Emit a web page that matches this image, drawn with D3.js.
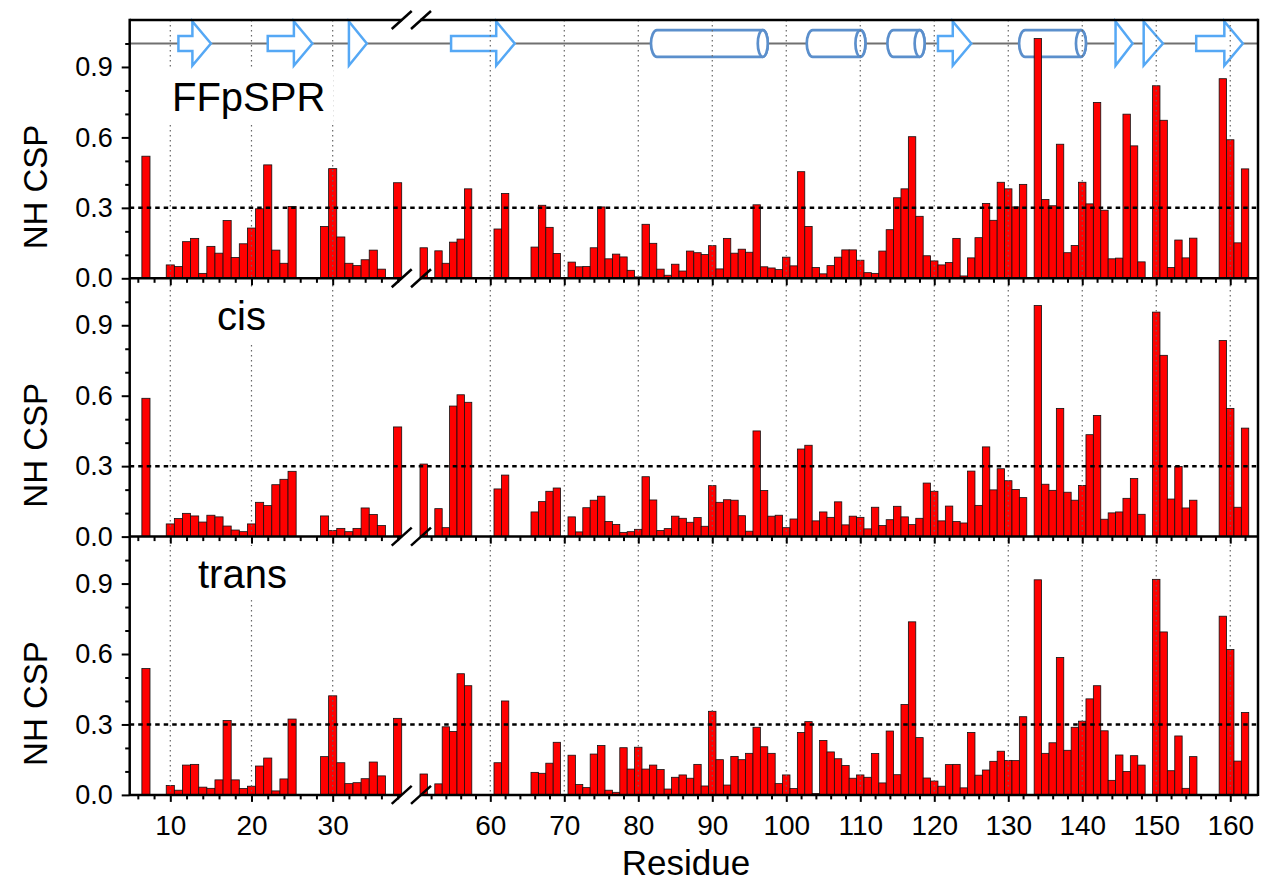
<!DOCTYPE html>
<html><head><meta charset="utf-8">
<script src="https://cdn.jsdelivr.net/npm/d3@7"></script>
<style>body{margin:0;background:#fff} svg{display:block} text{font-family:Arial,"Liberation Sans",sans-serif;fill:#000}</style>
</head><body><svg id="c" width="1265" height="884"></svg>
<script>
// ---------------- data ----------------
const residues = [7,10,11,12,13,14,15,16,17,18,19,20,21,22,23,24,25,29,30,31,32,33,34,35,36,38,
  51,53,54,55,56,57,61,62,66,67,68,69,
  71,72,73,74,75,76,77,78,79,80,81,82,83,84,85,86,87,88,89,90,91,92,93,94,95,96,97,98,99,100,
  101,102,103,104,105,106,107,108,109,110,111,112,113,114,115,116,117,118,119,120,121,122,123,124,125,126,127,128,129,130,131,132,
  134,135,136,137,138,139,140,141,142,143,144,145,146,147,148,150,151,152,153,154,155,159,160,161,162];
const ffpspr = [0.52,0.057,0.05,0.156,0.17,0.021,0.136,0.107,0.246,0.089,0.147,0.214,0.296,0.483,0.12,0.064,0.306,0.221,0.467,0.176,0.064,0.054,0.079,0.12,0.039,0.407,
  0.13,0.117,0.064,0.154,0.167,0.381,0.21,0.361,0.133,0.311,0.217,0.106,
  0.069,0.049,0.05,0.13,0.304,0.083,0.103,0.091,0.034,0.006,0.23,0.149,0.039,0.013,0.06,0.031,0.116,0.109,0.101,0.139,0.04,0.17,0.107,0.124,0.111,0.313,0.049,0.044,0.037,0.09,
  0.053,0.454,0.221,0.046,0.019,0.054,0.09,0.121,0.121,0.077,0.024,0.021,0.116,0.207,0.343,0.381,0.603,0.264,0.096,0.074,0.057,0.067,0.17,0.01,0.087,0.173,0.319,0.247,0.409,0.381,0.304,0.40,
  1.021,0.336,0.309,0.571,0.109,0.14,0.409,0.317,0.749,0.29,0.083,0.086,0.699,0.564,0.07,0.82,0.673,0.046,0.163,0.087,0.171,0.85,0.59,0.151,0.466];
const cis = [0.589,0.054,0.077,0.099,0.088,0.062,0.091,0.084,0.045,0.028,0.021,0.054,0.146,0.132,0.221,0.244,0.278,0.088,0.026,0.035,0.021,0.035,0.122,0.094,0.047,0.467,
  0.309,0.119,0.038,0.556,0.604,0.572,0.203,0.262,0.105,0.149,0.193,0.207,
  0.084,0.02,0.123,0.155,0.172,0.064,0.052,0.018,0.021,0.031,0.255,0.156,0.026,0.034,0.087,0.078,0.061,0.081,0.044,0.217,0.146,0.157,0.155,0.089,0.023,0.45,0.196,0.087,0.091,0.038,
  0.075,0.373,0.389,0.067,0.105,0.082,0.148,0.05,0.087,0.082,0.033,0.125,0.047,0.072,0.129,0.084,0.051,0.078,0.228,0.193,0.067,0.13,0.064,0.058,0.279,0.133,0.382,0.199,0.289,0.238,0.201,0.166,
  0.984,0.223,0.197,0.546,0.189,0.155,0.218,0.434,0.516,0.074,0.101,0.105,0.163,0.247,0.095,0.956,0.772,0.16,0.299,0.122,0.155,0.835,0.546,0.125,0.462];
const trans = [0.538,0.04,0.02,0.127,0.13,0.033,0.028,0.064,0.317,0.064,0.027,0.037,0.123,0.157,0.017,0.068,0.323,0.163,0.422,0.137,0.048,0.052,0.069,0.14,0.081,0.326,
  0.089,0.047,0.29,0.27,0.516,0.465,0.137,0.40,0.096,0.092,0.135,0.224,
  0.169,0.044,0.031,0.174,0.21,0.02,0.011,0.201,0.11,0.203,0.11,0.127,0.108,0.025,0.075,0.085,0.071,0.13,0.038,0.356,0.15,0.042,0.164,0.15,0.177,0.288,0.205,0.177,0.048,0.085,
  0.027,0.266,0.312,0.006,0.232,0.183,0.154,0.125,0.071,0.085,0.075,0.176,0.051,0.272,0.086,0.385,0.737,0.244,0.072,0.059,0.037,0.129,0.13,0.03,0.266,0.084,0.106,0.143,0.186,0.147,0.146,0.333,
  0.916,0.177,0.222,0.585,0.19,0.288,0.314,0.409,0.465,0.273,0.062,0.17,0.1,0.167,0.127,0.918,0.694,0.103,0.251,0.028,0.163,0.761,0.619,0.144,0.351];
const panelNames = ["FFpSPR","cis","trans"];
const yMajorTicks = [0,0.3,0.6,0.9];
const yMinorTicks = [0.1,0.2,0.4,0.5,0.7,0.8,1.0];
const xMajor1 = [10,20,30];
const xMajor2 = [60,70,80,90,100,110,120,130,140,150,160];
const threshold = 0.3;
const strandStart = [11,22,32,54.7,120.5,144.5,148.3,155.4];
const strandEnd   = [15,27.5,34.2,63.3,125,146.8,150.9,161.7];
const helixStart  = [81.85,102.9,113.8,131.6];
const helixEnd    = [97.5,110.7,118.7,140.5];

// ---------------- layout ----------------
const L=129.7, B1=401.7, B2=420, R=1258, T=20, PH=258.3;
const svg = d3.select("#c");
const x1 = d3.scaleLinear().domain([5,38.5]).range([L,B1]);
const x2 = d3.scaleLinear().domain([50.5,163.75]).range([B2,R]);
const xs = r => r < 44 ? x1(r) : x2(r);
const series = [ffpspr, cis, trans];
const panels = series.map((vals,i)=>{
  const top = T + i*PH;
  return {top, bottom: top+PH, y: d3.scaleLinear().domain([0,1.1]).range([top+PH, top]), vals, name: panelNames[i]};
});
const gTopo = svg.append("g"), gBars = svg.append("g"), gGrid = svg.append("g"),
      gLab = svg.append("g"), gAx = svg.append("g");

// topology (panel 1)
const yT = panels[0].y(1.0);
gTopo.append("line").attr("x1",L).attr("x2",R).attr("y1",yT).attr("y2",yT)
  .attr("stroke","#707070").attr("stroke-width",2);
const headLen=18.5, headH=22, shaftH=7.5;
strandStart.forEach((s,i)=>{
  const a=xs(s), b=xs(strandEnd[i]);
  let p;
  if (b-a <= headLen+2) {
    p = `M${a},${yT-headH}L${b},${yT}L${a},${yT+headH}Z`;
  } else {
    const h=b-headLen;
    p = `M${a},${yT-shaftH}L${h},${yT-shaftH}L${h},${yT-headH}L${b},${yT}L${h},${yT+headH}L${h},${yT+shaftH}L${a},${yT+shaftH}Z`;
  }
  gTopo.append("path").attr("d",p).attr("fill","#fff").attr("stroke","#55a8f5").attr("stroke-width",2.5).attr("stroke-linejoin","miter");
});
helixStart.forEach((s,i)=>{
  const a=xs(s), b=xs(helixEnd[i]), rx=5, ry=13.3, t=yT-ry, bo=yT+ry;
  const p=`M${a+rx},${t}L${b-rx},${t}A${rx},${ry} 0 0 1 ${b-rx},${bo}L${a+rx},${bo}A${rx+1},${ry} 0 0 1 ${a+rx},${t}Z`;
  gTopo.append("path").attr("d",p).attr("fill","#fff").attr("stroke","#5b8fcc").attr("stroke-width",2.7);
  gTopo.append("ellipse").attr("cx",b-rx).attr("cy",yT).attr("rx",rx).attr("ry",ry)
    .attr("fill","#fff").attr("stroke","#5b8fcc").attr("stroke-width",2.7);
});

// bars
panels.forEach(P=>{
  const data = residues.map((r,i)=>({r, v:P.vals[i]})).filter(d=>d.v!=null);
  gBars.selectAll(null).data(data).enter().append("rect")
    .attr("x",d=>xs(d.r-0.5)).attr("width",d=>xs(d.r+0.5)-xs(d.r-0.5))
    .attr("y",d=>P.y(d.v)).attr("height",d=>P.y(0)-P.y(d.v))
    .attr("fill","#ff0000").attr("stroke","#111").attr("stroke-width",0.8);
});

// vertical dotted grid
[...xMajor1,...xMajor2].forEach(t=>{
  gGrid.append("line").attr("x1",xs(t)).attr("x2",xs(t)).attr("y1",T).attr("y2",T+3*PH)
    .attr("stroke","#666").attr("stroke-width",1.2).attr("stroke-dasharray","1.5,3.5");
});

// panel labels with white boxes
const labPos = [{x:172, dy:91},{x:217, dy:51.7},{x:198, dy:51.5}];
panels.forEach((P,i)=>{
  const g = gLab.append("g");
  const t = g.append("text").attr("x",labPos[i].x).attr("y",P.top+labPos[i].dy)
    .attr("font-size",40).text(P.name);
  const bb = t.node().getBBox();
  g.insert("rect","text").attr("x",bb.x-8).attr("y",bb.y-6).attr("width",bb.width+16).attr("height",bb.height+10).attr("fill","#fff");
  // y-axis title
  gLab.append("text").attr("transform",`translate(47,${P.top+167}) rotate(-90)`)
    .attr("text-anchor","middle").attr("font-size",33).text("NH CSP");
  // threshold
  gLab.append("line").attr("x1",L).attr("x2",R).attr("y1",P.y(threshold)).attr("y2",P.y(threshold))
    .attr("stroke","#000").attr("stroke-width",2.5).attr("stroke-dasharray","4.5,4");
});

// axes
panels.forEach((P,i)=>{
  const isLast = i===2;
  const ya = gAx.append("g").attr("transform",`translate(${L},0)`)
    .call(d3.axisLeft(P.y).tickValues(yMajorTicks).tickSize(8).tickPadding(9).tickFormat(d3.format(".1f")));
  ya.select(".domain").remove();
  ya.selectAll("text").attr("font-size",27).attr("font-family","Arial, Liberation Sans, sans-serif");
  ya.selectAll("line").attr("stroke-width",2);
  const ym = gAx.append("g").attr("transform",`translate(${L},0)`)
    .call(d3.axisLeft(P.y).tickValues(yMinorTicks).tickSize(4.5).tickFormat(""));
  ym.select(".domain").remove(); ym.selectAll("line").attr("stroke-width",2);
  [[x1,xMajor1,d3.range(6,39,2)],[x2,xMajor2,d3.range(52,163,2)]].forEach(([sc,maj,all])=>{
    const minor = all.filter(v=>!maj.includes(v));
    const gm = gAx.append("g").attr("transform",`translate(0,${P.bottom})`)
      .call(d3.axisBottom(sc).tickValues(minor).tickSize(4.5).tickFormat(""));
    gm.select(".domain").remove(); gm.selectAll("line").attr("stroke-width",2);
    const gM = gAx.append("g").attr("transform",`translate(0,${P.bottom})`)
      .call(d3.axisBottom(sc).tickValues(maj).tickSize(7).tickPadding(13).tickFormat(isLast? d3.format("d") : ""));
    gM.select(".domain").remove(); gM.selectAll("line").attr("stroke-width",2);
    gM.selectAll("text").attr("font-size",28).attr("font-family","Arial, Liberation Sans, sans-serif");
  });
});
// frame
const frame = gAx.append("g").attr("stroke","#000").attr("stroke-width",2.5).attr("fill","none");
[T, T+PH, T+2*PH, T+3*PH].forEach(yy=>{
  frame.append("line").attr("x1",L).attr("x2",B1).attr("y1",yy).attr("y2",yy);
  frame.append("line").attr("x1",B2).attr("x2",R).attr("y1",yy).attr("y2",yy);
  [B1, B2+1].forEach(xx=>{
    frame.append("line").attr("x1",xx-10).attr("x2",xx+10).attr("y1",yy+9).attr("y2",yy-9);
  });
});
frame.append("line").attr("x1",L).attr("x2",L).attr("y1",T-1.2).attr("y2",T+3*PH+1.2);
frame.append("line").attr("x1",R).attr("x2",R).attr("y1",T-1.2).attr("y2",T+3*PH+1.2);

// x title
svg.append("text").attr("x",686).attr("y",875).attr("text-anchor","middle").attr("font-size",35).text("Residue");
</script></body></html>
